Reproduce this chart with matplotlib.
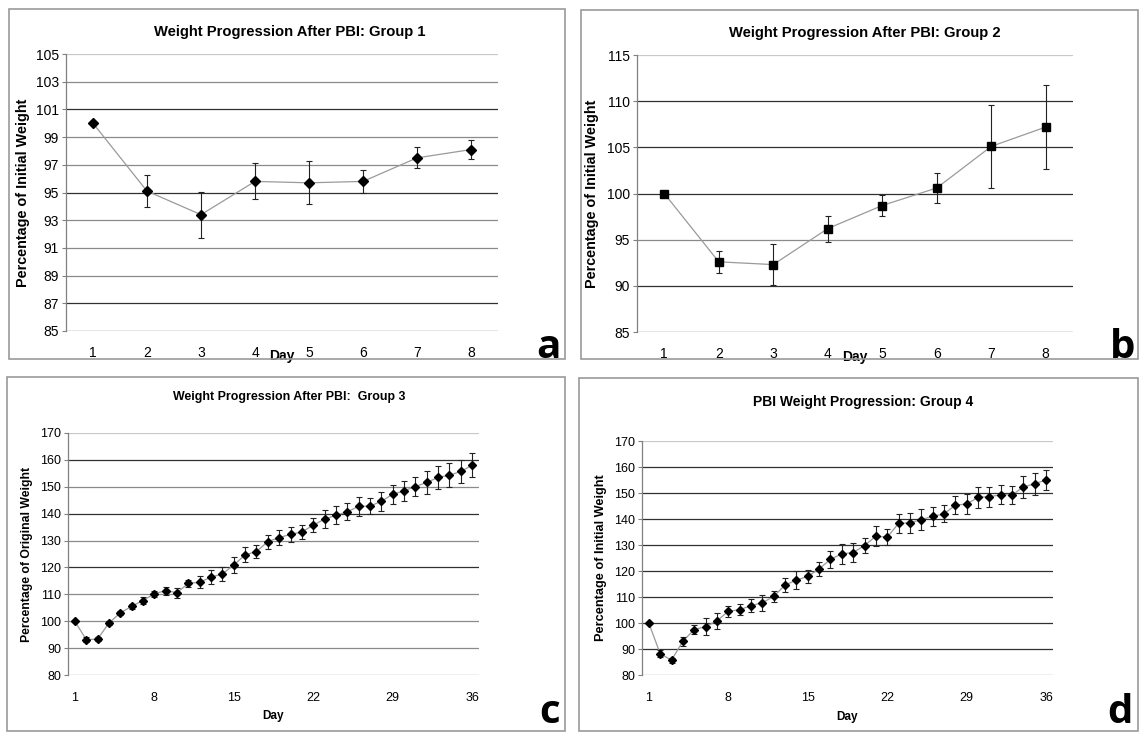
import matplotlib
matplotlib.use("Agg")
import matplotlib.pyplot as plt
from matplotlib.patches import Rectangle

plt.rcParams['font.family'] = ['Liberation Sans', 'DejaVu Sans']

# ---------------- data ----------------
days_8 = [1, 2, 3, 4, 5, 6, 7, 8]
g1_mean = [100, 95.1, 93.4, 95.8, 95.7, 95.8, 97.5, 98.1]
g1_err = [0, 1.15, 1.65, 1.3, 1.55, 0.8, 0.75, 0.7]
g2_mean = [100, 92.6, 92.3, 96.2, 98.7, 100.6, 105.1, 107.2]
g2_err = [0, 1.2, 2.2, 1.4, 1.1, 1.6, 4.5, 4.6]

days_36 = list(range(1, 37))
g3_mean = [100, 93.2, 93.3, 99.3, 103.1, 105.5, 107.7, 110.2, 111.4, 110.6,
           114.1, 114.5, 116.4, 117.6, 120.9, 124.7, 125.9, 129.6, 131.1, 132.3,
           133.2, 135.7, 138.0, 139.4, 140.7, 142.7, 142.8, 144.6, 147.2, 148.5,
           150.1, 151.6, 153.5, 154.3, 155.7, 158.0]
g3_err = [0, 0.8, 0.8, 0.8, 0.8, 1.0, 1.3, 1.2, 1.5, 1.8,
          1.3, 2.3, 2.6, 2.6, 3.0, 2.8, 2.3, 2.6, 2.8, 2.8,
          2.6, 2.7, 3.3, 3.3, 3.2, 3.4, 3.1, 3.6, 3.5, 3.8,
          3.7, 4.2, 4.2, 4.4, 4.2, 4.4]
g4_mean = [100, 88.2, 85.7, 93.0, 97.5, 98.6, 100.8, 104.5, 105.1, 106.7,
           107.8, 110.2, 114.6, 116.5, 117.9, 120.8, 124.5, 126.6, 127.1, 129.8,
           133.4, 133.0, 138.3, 138.5, 139.8, 141.0, 142.0, 145.3, 145.8, 148.3,
           148.6, 149.3, 149.3, 152.3, 153.6, 155.0]
g4_err = [0, 1.3, 1.0, 1.8, 1.8, 3.2, 3.0, 2.2, 2.2, 2.5,
          3.0, 2.0, 2.8, 3.5, 2.5, 2.8, 3.2, 3.9, 3.5, 3.0,
          3.9, 3.0, 3.8, 4.0, 4.2, 3.5, 3.2, 3.5, 3.9, 4.0,
          3.9, 3.6, 3.4, 4.2, 4.2, 3.8]

titles = ["Weight Progression After PBI: Group 1",
          "Weight Progression After PBI: Group 2",
          "Weight Progression After PBI:  Group 3",
          "PBI Weight Progression: Group 4"]
ylabels = ["Percentage of Initial Weight", "Percentage of Initial Weight",
           "Percentage of Original Weight", "Percentage of Initial Weight"]
letters = ["a", "b", "c", "d"]
yticks_a = list(range(85, 106, 2))
yticks_b = list(range(85, 116, 5))
yticks_cd = list(range(80, 171, 10))
xticks_cd = [1, 8, 15, 22, 29, 36]

# ---------------- layout helpers ----------------
W, H = 1140, 734
fig = plt.figure(figsize=(W / 100, H / 100), dpi=100)
fig.patch.set_facecolor('white')


def rect(l, r, t, b):
    return [l / W, 1 - b / H, (r - l) / W, (b - t) / H]


# panel frames
for (l, t, r, b) in [(9, 9, 565, 359), (581, 10, 1138, 359),
                     (7, 377, 565, 731), (579, 378, 1138, 731)]:
    fig.add_artist(Rectangle((l / W, 1 - b / H), (r - l) / W, (b - t) / H,
                             transform=fig.transFigure, fill=False,
                             edgecolor='#9a9a9a', lw=1.2))


def style(ax, yticks, dark, tick_fs, xpad):
    for s in ['top', 'right', 'bottom']:
        ax.spines[s].set_visible(False)
    ax.spines['left'].set_color('#808080')
    ax.spines['left'].set_linewidth(0.9)
    ax.set_yticks(yticks)
    ax.set_ylim(yticks[0], yticks[-1])
    ax.yaxis.grid(True, color='#8a8a8a', lw=0.9)
    ax.set_axisbelow(True)
    ax.tick_params(axis='y', length=3, color='#808080', labelsize=tick_fs, pad=2)
    ax.tick_params(axis='x', length=0, labelsize=tick_fs, pad=xpad)
    for v, gl in zip(yticks, ax.yaxis.get_gridlines()):
        if v in dark:
            gl.set_color('#303030')
        if v == yticks[-1]:
            gl.set_color('#c8c8c8')


def plot_series(ax, x, y, e, marker, ms):
    ax.plot(x, y, color='#9a9a9a', lw=0.9, zorder=2)
    ax.errorbar(x, y, yerr=e, fmt='none', ecolor='#222222', elinewidth=0.8,
                capsize=2.3, capthick=0.8, zorder=3)
    ax.plot(x, y, linestyle='none', marker=marker, ms=ms, color='black', zorder=4)


# ---- panel a ----
axa = fig.add_axes(rect(66, 498, 54, 331))
plot_series(axa, days_8, g1_mean, g1_err, 'D', 5)
axa.set_xlim(0.5, 8.5)
axa.set_xticks(days_8)
style(axa, yticks_a, dark=[101, 95, 87, 85], tick_fs=10, xpad=11)
axa.set_ylabel(ylabels[0], fontsize=10.4, fontweight='bold')
axa.yaxis.set_label_coords(-0.083, 0.5)
axa.set_xlabel("Day", fontsize=10, fontweight='bold')
axa.xaxis.set_label_coords((282 - 66) / 432, -(356 - 331) / 277)
axa.xaxis.label.set_va('center')
fig.text(290 / W, 1 - 32 / H, titles[0], ha='center', va='center',
         fontsize=10.6, fontweight='bold')

# ---- panel b ----
axb = fig.add_axes(rect(637, 1073, 55, 332))
plot_series(axb, days_8, g2_mean, g2_err, 's', 6)
axb.set_xlim(0.5, 8.5)
axb.set_xticks(days_8)
style(axb, yticks_b, dark=[110, 105, 100, 90, 85], tick_fs=10, xpad=11)
axb.set_ylabel(ylabels[1], fontsize=10.4, fontweight='bold')
axb.yaxis.set_label_coords(-0.087, 0.5)
axb.set_xlabel("Day", fontsize=10, fontweight='bold')
axb.xaxis.set_label_coords((855 - 637) / 436, -(357 - 332) / 277)
axb.xaxis.label.set_va('center')
fig.text(865 / W, 1 - 33 / H, titles[1], ha='center', va='center',
         fontsize=10.6, fontweight='bold')

# ---- panel c ----
axc = fig.add_axes(rect(68, 479, 433, 675))
plot_series(axc, days_36, g3_mean, g3_err, 'D', 4.4)
axc.set_xlim(0.4, 36.6)
axc.set_xticks(xticks_cd)
style(axc, yticks_cd, dark=[160, 140, 120], tick_fs=9, xpad=12)
axc.set_ylabel(ylabels[2], fontsize=8.8, fontweight='bold')
axc.yaxis.set_label_coords(-0.085, 0.5)
axc.set_xlabel("Day", fontsize=8.5, fontweight='bold')
axc.xaxis.set_label_coords((273 - 68) / 411, -(716 - 675) / 242)
axc.xaxis.label.set_va('center')
fig.text(289 / W, 1 - 397 / H, titles[2], ha='center', va='center',
         fontsize=8.9, fontweight='bold')

# ---- panel d ----
axd = fig.add_axes(rect(642, 1053, 441, 675))
plot_series(axd, days_36, g4_mean, g4_err, 'D', 4.4)
axd.set_xlim(0.4, 36.6)
axd.set_xticks(xticks_cd)
style(axd, yticks_cd, dark=[160, 150, 140, 130, 120, 110, 100, 90], tick_fs=9, xpad=12)
axd.set_ylabel(ylabels[3], fontsize=9.2, fontweight='bold')
axd.yaxis.set_label_coords(-0.085, 0.5)
axd.set_xlabel("Day", fontsize=8.5, fontweight='bold')
axd.xaxis.set_label_coords((847 - 642) / 411, -(717 - 675) / 234)
axd.xaxis.label.set_va('center')
fig.text(863 / W, 1 - 402 / H, titles[3], ha='center', va='center',
         fontsize=10, fontweight='bold')

# ---- panel letters ----
for txt, (x, y) in zip(letters, [(548, 358), (1123, 358), (550, 723), (1120, 723)]):
    fig.text(x / W, 1 - y / H, txt, ha='center', va='baseline',
             fontsize=29, fontweight='bold', family=['Open Sans', 'DejaVu Sans'])

fig.savefig("out.png", dpi=100, facecolor='white')
